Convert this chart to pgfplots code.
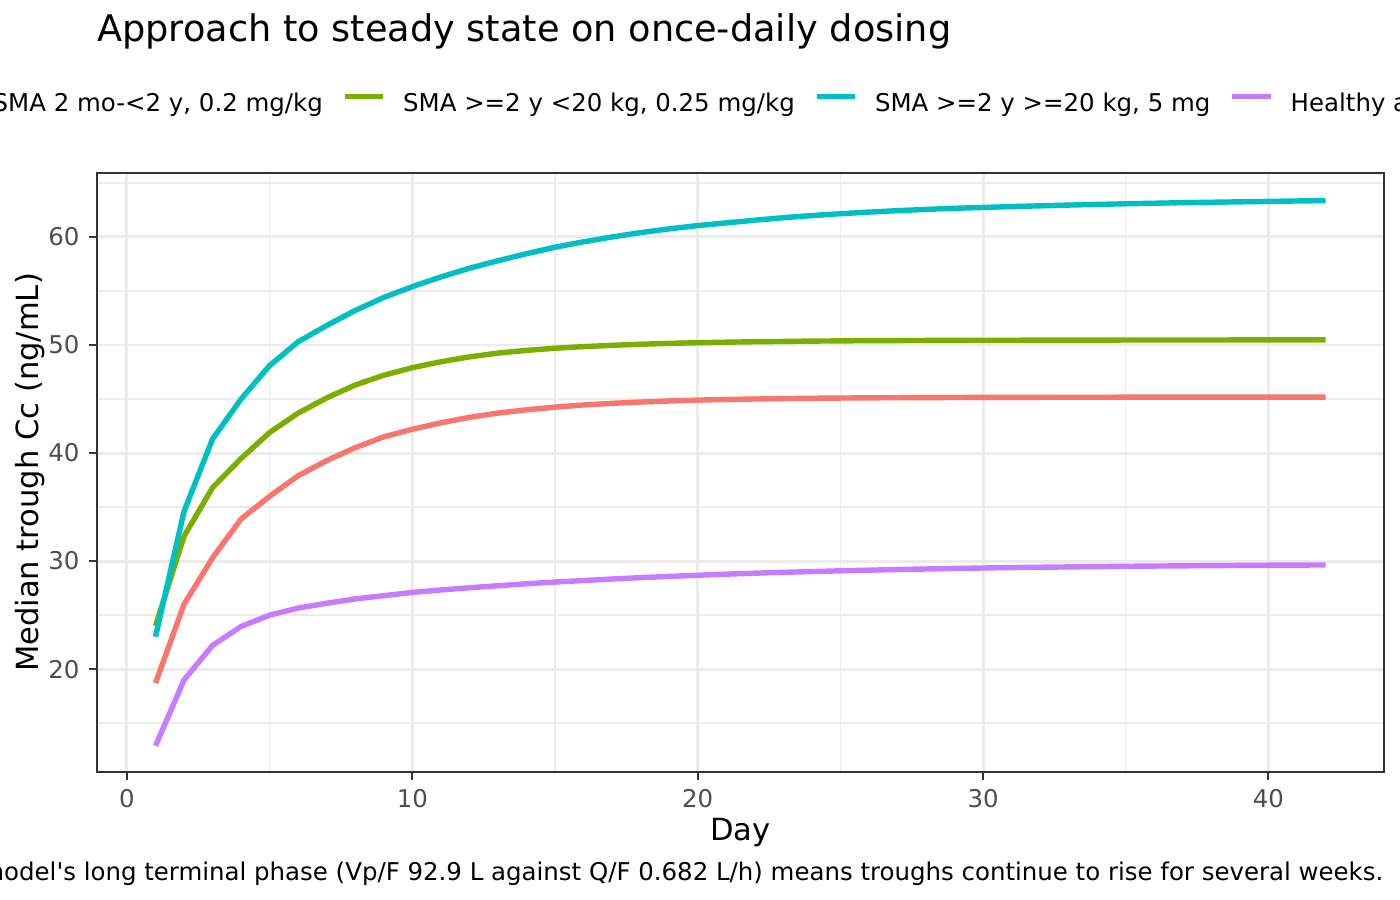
\documentclass[border=0pt]{standalone}
\usepackage{pgfplots}
\pgfplotsset{compat=1.18}
\usepackage{pgfplotstable}
\usepackage{fontspec}
\setmainfont{DejaVu Sans}
\newfontfamily\plainfont{DejaVu Sans}
\definecolor{cRed}{HTML}{F8766D}
\definecolor{cGreen}{HTML}{7CAE00}
\definecolor{cCyan}{HTML}{00BFC4}
\definecolor{cPurple}{HTML}{C77CFF}
\definecolor{grid92}{HTML}{EBEBEB}
\definecolor{grey20}{HTML}{333333}
\definecolor{grey30}{HTML}{4D4D4D}

\pgfplotstableread{
day red green cyan purple
1 18.7 24.0 23.0 12.9
2 26.0 32.3 34.6 19.0
3 30.3 36.8 41.3 22.2
4 33.9 39.5 45.0 23.95
5 36.0 41.9 48.1 25.0
6 37.9 43.7 50.3 25.65
7 39.3 45.1 51.8 26.1
8 40.5 46.3 53.2 26.5
9 41.5 47.2 54.4 26.8
10 42.2 47.9 55.4 27.1
11 42.8 48.45 56.3 27.33
12 43.3 48.9 57.1 27.53
13 43.7 49.25 57.8 27.72
14 44.0 49.5 58.45 27.9
15 44.25 49.7 59.05 28.06
16 44.45 49.85 59.55 28.2
17 44.6 49.97 60.0 28.34
18 44.72 50.07 60.4 28.47
19 44.82 50.15 60.75 28.58
20 44.9 50.21 61.05 28.69
21 44.96 50.26 61.3 28.79
22 45.0 50.3 61.55 28.88
23 45.04 50.33 61.78 28.96
24 45.07 50.36 61.98 29.03
25 45.09 50.38 62.15 29.1
26 45.11 50.4 62.3 29.16
27 45.12 50.41 62.43 29.22
28 45.13 50.42 62.55 29.27
29 45.14 50.43 62.65 29.32
30 45.15 50.44 62.73 29.36
31 45.15 50.44 62.81 29.4
32 45.16 50.45 62.88 29.43
33 45.16 50.45 62.95 29.46
34 45.16 50.45 63.01 29.49
35 45.17 50.46 63.07 29.52
36 45.17 50.46 63.12 29.54
37 45.17 50.46 63.17 29.56
38 45.17 50.46 63.21 29.58
39 45.18 50.47 63.25 29.6
40 45.18 50.47 63.29 29.62
41 45.18 50.47 63.33 29.63
42 45.18 50.47 63.36 29.64
}\datatab

\begin{document}
\begin{tikzpicture}
\path[use as bounding box] (0bp,0bp) rectangle (504bp,324bp);
\begin{axis}[
  at={(34.92bp,46.08bp)}, anchor=south west,
  scale only axis, width=463.32bp, height=215.64bp,
  xmin=-1.05, xmax=44.05, ymin=10.48, ymax=65.92,
  xtick={0,10,20,30,40}, minor xtick={5,15,25,35},
  ytick={20,30,40,50,60}, minor ytick={15,25,35,45,55,65},
  grid=both,
  major grid style={color=grid92, line width=1.07bp},
  minor grid style={color=grid92, line width=0.53bp},
  tick pos=left, tick align=outside,
  major tick length=2.74bp, minor tick length=0pt,
  tick style={color=grey20, line width=0.75bp},
  axis line style={color=grey20, line width=0.75bp},
  /pgf/number format/assume math mode=true,
  tick label style={color=grey30, font=\fontsize{8.8bp}{10bp}\selectfont, inner sep=0pt},
  xticklabel style={anchor=north, yshift=-3.38bp},
  yticklabel style={anchor=east, xshift=-3.38bp},
  legend columns=4,
  legend image code/.code={\draw[#1] (0bp,3.2bp) -- (13.8bp,3.2bp);},
  legend style={at={(0.46853,1.11329)}, anchor=center, draw=none, fill=none,
    font=\fontsize{8.8bp}{10bp}\selectfont,
    nodes={inner sep=0pt, text height=6.5bp, text depth=1.8bp},
    /tikz/every odd column/.append style={column sep=6.22bp},
    /tikz/every even column/.append style={column sep=6.94bp}},
  every axis plot/.append style={line width=1.95bp, line join=round, no markers},
]
\addplot[cRed] table[x=day, y=red] {\datatab};
\addlegendentry{SMA 2 mo-<2 y, 0.2 mg/kg}
\addplot[cGreen] table[x=day, y=green] {\datatab};
\addlegendentry{SMA >=2 y <20 kg, 0.25 mg/kg}
\addplot[cCyan] table[x=day, y=cyan] {\datatab};
\addlegendentry{SMA >=2 y >=20 kg, 5 mg}
\addplot[cPurple] table[x=day, y=purple] {\datatab};
\addlegendentry{Healthy adults}
\end{axis}
\node[anchor=base west, inner sep=0pt, font=\fontsize{13.2bp}{15bp}\selectfont] at (34.8bp,309.0bp) {Approach to steady state on once-daily dosing};
\node[anchor=base, inner sep=0pt, font=\fontsize{11bp}{13bp}\selectfont] at (266.6bp,21.35bp) {Day};
\node[rotate=90, anchor=base, inner sep=0pt, font=\fontsize{11bp}{13bp}\selectfont] at (13.7bp,153.9bp) {Median trough Cc (ng/mL)};
\node[anchor=base east, inner sep=0pt, font=\fontsize{8.8bp}{10bp}\plainfont] at (498.2bp,7.2bp) {The model's long terminal phase (Vp/F 92.9 L against Q/F 0.682 L/h) means troughs continue to rise for several weeks.};
\end{tikzpicture}
\end{document}
